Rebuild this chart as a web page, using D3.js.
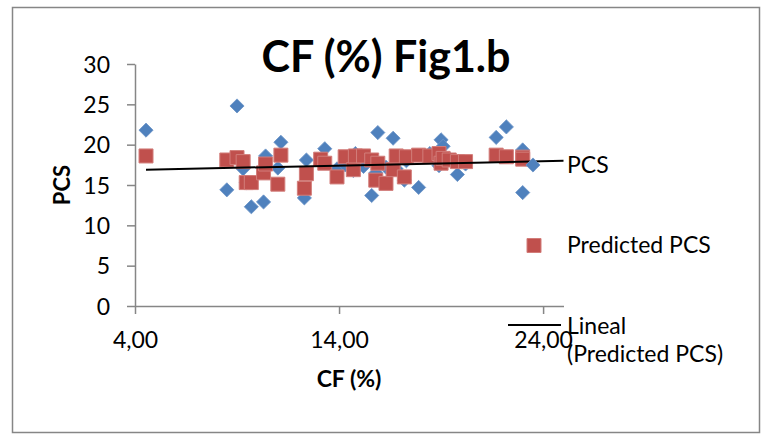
<!DOCTYPE html>
<html>
<head>
<meta charset="utf-8">
<script src="https://cdn.jsdelivr.net/npm/d3@7"></script>
<style>
  body { margin: 0; background: #fff; }
  svg text { font-family: Lato, "Open Sans", sans-serif; fill: #000; }
</style>
</head>
<body>
<div id="graph_draw"></div>
<script>
// CF (%) values shared by both series
var cf = [4.54, 8.5, 9.0, 9.3, 9.45, 9.7, 10.3, 10.4, 11.0, 11.15,
          12.3, 12.4, 13.1, 13.3, 13.9, 14.3, 14.7, 14.8, 15.2, 15.6,
          15.8, 15.9, 16.3, 16.65, 16.8, 17.2, 17.3, 17.9, 18.45, 18.9,
          19.0, 19.1, 19.4, 19.8, 20.2, 21.7, 22.2, 23.0, 23.0];
var pcs = [21.8, 14.4, 24.8, 17.0, 15.3, 12.3, 12.9, 18.6, 17.1, 20.3,
           13.4, 18.1, 18.0, 19.5, 17.0, 17.5, 16.8, 18.9, 17.3, 13.7,
           16.5, 21.5, 17.2, 20.8, 17.0, 15.6, 18.0, 14.7, 18.9, 17.4,
           20.6, 19.8, 18.3, 16.3, 17.6, 20.9, 22.2, 19.35, 14.06];
var predicted = [18.6, 18.1, 18.4, 17.9, 15.3, 15.3, 16.5, 17.6, 15.1, 18.7,
                 14.6, 16.4, 18.2, 17.7, 16.0, 18.5, 16.9, 18.6, 18.6, 18.1,
                 15.6, 17.7, 15.2, 16.9, 18.6, 16.0, 18.5, 18.7, 18.6, 18.9,
                 17.7, 18.3, 18.1, 17.9, 17.9, 18.7, 18.5, 18.45, 18.2];
// linear trendline of Predicted PCS (end points)
var trendX = [4.54, 25];
var trendY = [16.9, 18.0];
var xTicks = [4, 14, 24];
var yTicks = [0, 5, 10, 15, 20, 25, 30];
var legendLabels = ["PCS", "Predicted PCS", "Lineal", "(Predicted PCS)"];

var width = 765, height = 434;
var svg = d3.select("#graph_draw").append("svg")
    .attr("width", width)
    .attr("height", height);

// chart border
svg.append("rect")
    .attr("x", 12.5).attr("y", 7.5)
    .attr("width", 747).attr("height", 425)
    .attr("fill", "none")
    .attr("stroke", "#868686")
    .attr("stroke-width", 1.5);

var x = d3.scaleLinear().domain([4, 25]).range([135, 563.5]);
var y = d3.scaleLinear().domain([0, 30]).range([306, 64]);

// Y axis
var yAxis = svg.append("g")
    .attr("transform", "translate(135,0)")
    .call(d3.axisLeft(y).tickValues(yTicks).tickSize(8).tickPadding(17).tickSizeOuter(0));
// X axis
var xAxis = svg.append("g")
    .attr("transform", "translate(0,306)")
    .call(d3.axisBottom(x).tickValues(xTicks).tickSize(8).tickPadding(18).tickSizeOuter(0)
        .tickFormat(function(d){ return d3.format(".2f")(d).replace(".", ","); }));

[xAxis, yAxis].forEach(function(a){
    a.select(".domain").attr("stroke", "#868686").attr("stroke-width", 1.5);
    a.selectAll(".tick line").attr("stroke", "#868686").attr("stroke-width", 1.5);
    a.selectAll(".tick text").attr("font-size", 23).attr("font-family", "Lato");
});
yAxis.selectAll(".tick text").attr("dy", "0.36em");

// PCS series (diamonds)
var diamond = d3.symbol().type(d3.symbolSquare).size(100);
svg.append("g").selectAll("path")
    .data(cf)
    .enter().append("path")
    .attr("d", diamond)
    .attr("transform", function(d, i){ return "translate(" + x(d) + "," + y(pcs[i]) + ") rotate(45)"; })
    .attr("fill", "#4F81BD")
    .attr("stroke", "#6d95c8")
    .attr("stroke-width", 0.8);

// Predicted PCS series (squares)
var square = d3.symbol().type(d3.symbolSquare).size(196);
svg.append("g").selectAll("path")
    .data(cf)
    .enter().append("path")
    .attr("d", square)
    .attr("transform", function(d, i){ return "translate(" + x(d) + "," + y(predicted[i]) + ")"; })
    .attr("fill", "#C0504D")
    .attr("stroke", "#d27d7a")
    .attr("stroke-width", 1);

// trendline
svg.append("line")
    .attr("x1", x(trendX[0])).attr("y1", y(trendY[0]))
    .attr("x2", x(trendX[1])).attr("y2", y(trendY[1]))
    .attr("stroke", "#000")
    .attr("stroke-width", 2);

// title
svg.append("text")
    .attr("x", 386).attr("y", 72)
    .attr("text-anchor", "middle")
    .attr("font-size", 43)
    .attr("font-weight", "bold")
    .text("CF (%) Fig1.b");

// axis titles
svg.append("text")
    .attr("x", 349).attr("y", 387)
    .attr("text-anchor", "middle")
    .attr("font-size", 23)
    .attr("font-weight", "bold")
    .text("CF (%)");
svg.append("text")
    .attr("transform", "translate(70,185) rotate(-90)")
    .attr("text-anchor", "middle")
    .attr("font-size", 22)
    .attr("font-weight", "bold")
    .text("PCS");

// legend
var lg = svg.append("g");
lg.append("path")
    .attr("d", diamond)
    .attr("transform", "translate(533,165) rotate(45)")
    .attr("fill", "#4F81BD")
    .attr("stroke", "#6d95c8")
    .attr("stroke-width", 0.8);
lg.append("path")
    .attr("d", square)
    .attr("transform", "translate(534,245.5)")
    .attr("fill", "#C0504D")
    .attr("stroke", "#d27d7a");
lg.append("line")
    .attr("x1", 508).attr("x2", 561)
    .attr("y1", 325).attr("y2", 325)
    .attr("stroke", "#000").attr("stroke-width", 2);
var legendY = [173, 253, 334, 362];
legendLabels.forEach(function(t, i){
    lg.append("text")
        .attr("x", 567).attr("y", legendY[i])
        .attr("font-size", 23)
        .text(t);
});
</script>
</body>
</html>
